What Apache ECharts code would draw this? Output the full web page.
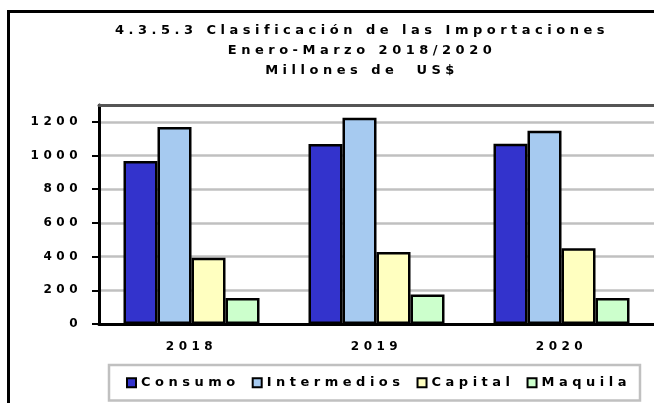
<!DOCTYPE html>
<html>
<head>
<meta charset="utf-8">
<script src="https://cdn.jsdelivr.net/npm/echarts@6/dist/echarts.min.js"></script>
<style>
  html, body { margin: 0; padding: 0; background: #fff; }
  #importChart { width: 654px; height: 403px; }
</style>
</head>
<body>
<div id="importChart"></div>
<script>
const years = ['2018', '2019', '2020']
const seriesNames = ['Consumo', 'Intermedios', 'Capital', 'Maquila']
const consumo = [967, 1068, 1070]
const intermedios = [1170, 1225, 1147]
const capital = [393, 427, 450]
const maquila = [154, 175, 154]
const yTicks = [0, 200, 400, 600, 800, 1000, 1200]
const colors = ['#3333CC', '#A6CAF0', '#FFFFC0', '#CCFFCC']

// the original uses widely spaced bold text; canvas letterSpacing gets close
const LETTER_SPACING = '4.5px'
;['fillText', 'strokeText', 'measureText'].forEach(fn => {
    const orig = CanvasRenderingContext2D.prototype[fn]
    CanvasRenderingContext2D.prototype[fn] = function (...args) {
        this.letterSpacing = LETTER_SPACING
        return orig.apply(this, args)
    }
})

const font = '"DejaVu Sans", sans-serif'
const chart = echarts.init(document.getElementById('importChart'))

const values = [consumo, intermedios, capital, maquila]

const option = {
    animation: false,
    backgroundColor: '#fff',
    textStyle: { fontFamily: font },
    title: {
        text: '4.3.5.3 Clasificación de las Importaciones\nEnero-Marzo 2018/2020\nMillones de  US$',
        left: 362,
        top: 21,
        textAlign: 'center',
        padding: 0,
        textStyle: {
            fontFamily: font,
            fontSize: 13,
            fontWeight: 'bold',
            color: '#000',
            lineHeight: 20
        }
    },
    graphic: [{
        type: 'rect',
        shape: { x: 8.5, y: 11.5, width: 800, height: 500 },
        style: { fill: 'none', stroke: '#000', lineWidth: 3 },
        z: 100
    }],
    legend: {
        data: seriesNames,
        left: 109,
        top: 365,
        padding: [9, 9, 9, 17],
        itemGap: 12,
        itemWidth: 9,
        itemHeight: 9,
        icon: 'rect',
        borderColor: '#C0C0C0',
        borderWidth: 2.5,
        textStyle: {
            fontFamily: font,
            fontSize: 13,
            fontWeight: 'bold',
            color: '#000'
        }
    },
    grid: {
        left: 99,
        top: 105,
        right: -12,
        bottom: 79,
        containLabel: false
    },
    xAxis: [{
        type: 'category',
        data: years,
        axisLine: { lineStyle: { color: '#000', width: 3 } },
        axisTick: { length: 4, lineStyle: { color: '#000', width: 2 } },
        axisLabel: {
            margin: 15,
            fontFamily: font,
            fontSize: 12,
            fontWeight: 'bold',
            color: '#000'
        }
    }, {
        type: 'category',
        data: years,
        position: 'top',
        axisLine: { lineStyle: { color: '#555', width: 3 } },
        axisTick: { show: false },
        axisLabel: { show: false }
    }],
    yAxis: {
        type: 'value',
        min: 0,
        max: 1300,
        interval: 200,
        axisLine: { show: true, lineStyle: { color: '#000', width: 3 } },
        axisTick: {
            show: true,
            length: 7,
            customValues: yTicks,
            lineStyle: { color: '#000', width: 2 }
        },
        axisLabel: {
            margin: 17,
            customValues: yTicks,
            formatter: value => String(value),
            fontFamily: font,
            fontSize: 12,
            fontWeight: 'bold',
            color: '#000'
        },
        splitLine: { lineStyle: { color: '#C0C0C0', width: 2.5 } }
    },
    series: seriesNames.map((name, i) => ({
        name: name,
        type: 'bar',
        data: values[i],
        barWidth: 34,
        barGap: '0%',
        itemStyle: {
            color: colors[i],
            borderColor: '#000',
            borderWidth: 2.5
        }
    }))
}

chart.setOption(option)
window.addEventListener('resize', () => {
    chart.resize()
})
</script>
</body>
</html>
